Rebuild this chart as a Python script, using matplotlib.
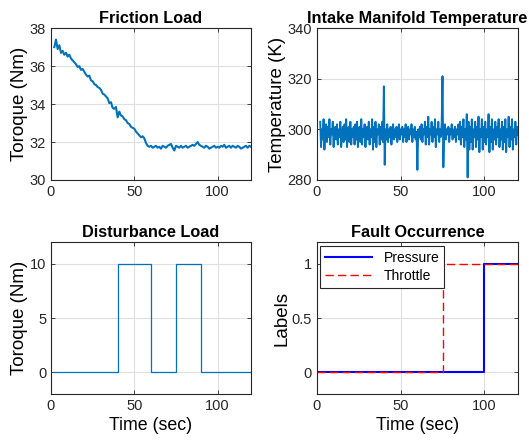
import numpy as np
import matplotlib.pyplot as plt

plt.rcParams['font.family'] = ['Liberation Sans', 'DejaVu Sans']

# friction load, 1 s steps from t=2 to t=120
friction_t = np.arange(2, 121, 1)
friction = [
    37.0, 37.4, 36.9, 37.1, 36.7, 36.8, 36.6, 36.7, 36.5, 36.6,
    36.4, 36.3, 36.2, 36.1, 35.95, 36.0, 35.8, 35.85, 35.7, 35.55,
    35.45, 35.5, 35.25, 35.2, 35.05, 35.0, 34.9, 34.85, 34.75, 34.55,
    34.5, 34.4, 34.3, 34.05, 34.1, 33.8, 33.75, 33.85, 33.3, 33.6,
    33.4, 33.35, 33.2, 33.15, 33.0, 32.95, 32.8, 32.75, 32.7, 32.55,
    32.45, 32.35, 32.25, 32.3, 32.2, 31.95, 31.8, 31.75, 31.8, 31.7,
    31.75, 31.8, 31.7, 31.75, 31.65, 31.8, 31.75, 31.7, 31.8, 31.85,
    31.9, 31.7, 31.55, 31.8, 31.75, 31.7, 31.8, 31.7, 31.75, 31.8,
    31.7, 31.75, 31.8, 31.85, 31.8, 31.9, 32.0, 31.85, 31.8, 31.75,
    31.7, 31.8, 31.75, 31.65, 31.7, 31.75, 31.8, 31.7, 31.75, 31.7,
    31.8, 31.75, 31.85, 31.7, 31.75, 31.8, 31.7, 31.8, 31.75, 31.7,
    31.8, 31.75, 31.65, 31.7, 31.75, 31.8, 31.7, 31.8, 31.75,
]

# intake manifold temperature, 0.5 s steps from t=2 to t=120
temp_t = np.arange(2, 120.25, 0.5)
temp = [
    303, 293, 300, 296, 304, 292, 299, 302, 295, 301, 297, 304, 294, 300, 298, 303, 293, 299, 301, 296,
    302, 294, 300, 297, 303, 293, 298, 301, 295, 302, 296, 304, 293, 299, 301, 295, 303, 294, 300, 297,
    301, 294, 302, 296, 303, 293, 299, 301, 295, 304, 294, 300, 297, 302, 293, 299, 301, 296, 303, 294,
    300, 297, 304, 292, 301, 295, 303, 293, 300, 298, 302, 294, 301, 296, 303, 295, 317, 286, 300, 296,
    302, 295, 300, 297, 301, 294, 299, 302, 296, 300, 297, 301, 295, 299, 302, 296, 300, 298, 301, 295,
    300, 297, 302, 295, 299, 301, 296, 300, 298, 302, 295, 300, 297, 301, 296, 299, 284, 300, 297, 301,
    296, 302, 295, 300, 298, 303, 294, 301, 297, 305, 294, 300, 298, 303, 295, 301, 297, 304, 293, 300,
    298, 303, 295, 300, 297, 302, 321, 285, 299, 302, 296, 300, 298, 301, 295, 300, 298, 302, 296, 300,
    297, 301, 295, 300, 298, 302, 296, 303, 294, 301, 297, 304, 293, 300, 296, 306, 281, 303, 292, 301,
    295, 304, 292, 300, 297, 303, 293, 301, 296, 305, 291, 300, 297, 304, 292, 301, 295, 303, 294, 300,
    297, 306, 291, 301, 295, 304, 292, 300, 296, 303, 294, 301, 297, 304, 293, 300, 296, 303, 292, 301,
    295, 304, 291, 300, 297, 305, 293, 301, 296, 304, 292, 300, 297, 303, 294, 301, 298,
]

# disturbance load steps
dist_t = [2, 40, 40, 60, 60, 75, 75, 90, 90, 120]
dist = [0, 0, 10, 10, 0, 0, 10, 10, 0, 0]

# fault labels
pressure_t = [0, 100, 100, 120]
pressure = [0, 0, 1, 1]
throttle_t = [0, 75, 75, 120]
throttle = [0, 0, 1, 1]

blue = '#0072BD'
fig = plt.figure(figsize=(5.29, 4.4), dpi=100)
ax1 = fig.add_axes([0.0964, 0.591, 0.378, 0.345])
ax2 = fig.add_axes([0.599, 0.591, 0.380, 0.345])
ax3 = fig.add_axes([0.0964, 0.1045, 0.378, 0.345])
ax4 = fig.add_axes([0.599, 0.1045, 0.380, 0.345])

tsize = 11.7
lsize = 13.5

ax1.plot(friction_t, friction, color=blue, lw=1.5)
ax1.set_ylim(30, 38)
ax1.set_yticks([30, 32, 34, 36, 38])
ax1.set_title('Friction Load', fontweight='bold', fontsize=tsize, pad=4)
ax1.set_ylabel('Toroque (Nm)', fontsize=lsize, labelpad=1)

ax2.plot(temp_t, temp, color=blue, lw=1.4)
ax2.set_ylim(280, 340)
ax2.set_yticks([280, 300, 320, 340])
ax2.set_title('Intake Manifold Temperature', fontweight='bold', fontsize=tsize, pad=4)
ax2.set_ylabel('Temperature (K)', fontsize=lsize, labelpad=1)

ax3.plot(dist_t, dist, color=blue, lw=0.9)
ax3.set_ylim(-2, 12)
ax3.set_yticks([0, 5, 10])
ax3.set_title('Disturbance Load', fontweight='bold', fontsize=tsize, pad=4)
ax3.set_ylabel('Toroque (Nm)', fontsize=lsize, labelpad=1)
ax3.set_xlabel('Time (sec)', fontsize=12.8, labelpad=3)

ax4.plot(pressure_t, pressure, color='#0000FF', lw=1.5, label='Pressure')
ax4.plot(throttle_t, throttle, color='#FF0000', lw=1.0, ls=(0, (6, 3)), label='Throttle')
ax4.set_ylim(-0.2, 1.2)
ax4.set_yticks([0, 0.5, 1])
ax4.set_yticklabels(['0', '0.5', '1'])
ax4.set_title('Fault Occurrence', fontweight='bold', fontsize=tsize, pad=4)
ax4.set_ylabel('Labels', fontsize=lsize, labelpad=1)
ax4.set_xlabel('Time (sec)', fontsize=12.8, labelpad=3)
leg = ax4.legend(loc='upper left', fontsize=10, fancybox=False, framealpha=1,
                 edgecolor='#262626', borderaxespad=0.25, handlelength=3.4,
                 labelspacing=0.3, borderpad=0.35)
leg.get_frame().set_linewidth(0.8)

for ax in (ax1, ax2, ax3, ax4):
    ax.set_xlim(0, 120)
    ax.set_xticks([0, 50, 100])
    ax.grid(True, color='#dfdfdf', lw=0.8)
    ax.set_axisbelow(True)
    ax.tick_params(direction='in', top=True, right=True, labelsize=10.5,
                   colors='#262626', length=3, width=0.6)
    for s in ax.spines.values():
        s.set_color('#262626')
        s.set_linewidth(0.8)

fig.savefig('out.png', dpi=100)
